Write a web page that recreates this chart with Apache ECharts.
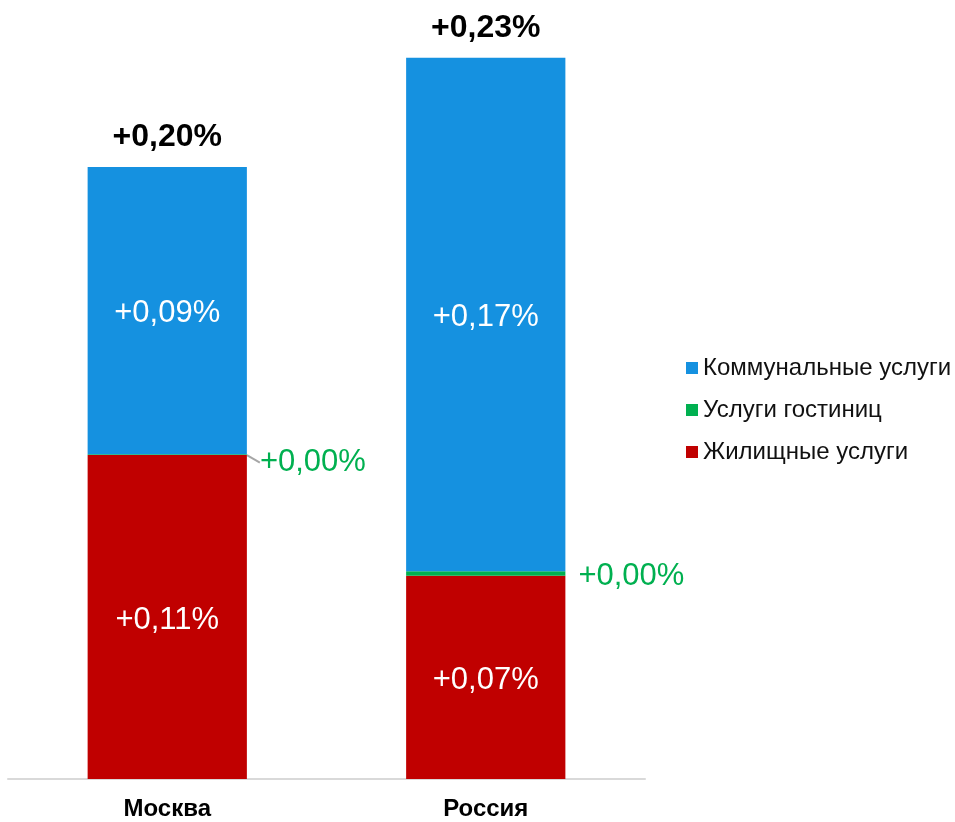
<!DOCTYPE html>
<html><head><meta charset="utf-8">
<script src="https://cdn.jsdelivr.net/npm/echarts@6/dist/echarts.min.js"></script>
<style>html,body{margin:0;padding:0;background:#fff}#c{width:955px;height:822px}</style>
</head><body><div id="c"></div>
<script>
const categories = ['Москва', 'Россия'];
const housing = [0.106, 0.0665];      // Жилищные услуги
const hotels = [0.0003, 0.0015];      // Услуги гостиниц
const utilities = [0.094, 0.168];     // Коммунальные услуги
const housingLabels = ['+0,11%', '+0,07%'];
const hotelLabels = ['+0,00%', '+0,00%'];
const utilityLabels = ['+0,09%', '+0,17%'];
const totalLabels = ['+0,20%', '+0,23%'];

const FONT = '"Liberation Sans", Arial, sans-serif';
const chart = echarts.init(document.getElementById('c'));
chart.setOption({
  animation: false,
  textStyle: { fontFamily: FONT },
  grid: { left: 8, right: 310, top: 15, bottom: 43 },
  legend: {
    orient: 'vertical', left: 681, top: 351,
    itemWidth: 12, itemHeight: 12, itemGap: 18,
    icon: 'rect',
    data: ['Коммунальные услуги', 'Услуги гостиниц', 'Жилищные услуги'],
    textStyle: { fontSize: 24, color: '#111', fontFamily: FONT }
  },
  xAxis: {
    type: 'category', data: categories,
    axisLine: { lineStyle: { color: '#d9d9d9', width: 2 } },
    axisTick: { show: false },
    axisLabel: { fontSize: 24, fontWeight: 'bold', color: '#000', margin: 18, fontFamily: FONT }
  },
  yAxis: { type: 'value', min: 0, max: 0.25, show: false, splitLine: { show: false } },
  series: [
    {
      name: 'Жилищные услуги', type: 'bar', stack: 's', barWidth: '50%',
      data: housing, itemStyle: { color: '#C00000' },
      label: { show: true, position: 'inside', offset: [0, 3], color: '#fff', fontSize: 31, fontFamily: FONT,
        formatter: p => housingLabels[p.dataIndex] }
    },
    {
      name: 'Услуги гостиниц', type: 'bar', stack: 's',
      data: hotels.map((v, i) => ({ value: v, labelLine: { show: i === 0 } })),
      itemStyle: { color: '#00B050' },
      label: { show: true, position: 'right', distance: 13, color: '#00B050', fontSize: 31, fontFamily: FONT,
        formatter: p => hotelLabels[p.dataIndex] },
      labelLine: { lineStyle: { color: '#a6a6a6', width: 2 } },
      labelLayout: p => p.dataIndex === 0 ? { dy: 8 } : { dy: 3 }
    },
    {
      name: 'Коммунальные услуги', type: 'bar', stack: 's',
      data: utilities, itemStyle: { color: '#1591E0' },
      label: { show: true, position: 'inside', offset: [0, 3], color: '#fff', fontSize: 31, fontFamily: FONT,
        formatter: p => utilityLabels[p.dataIndex] }
    },
    {
      name: 'Итого', type: 'bar', stack: 's',
      data: categories.map(() => 0), itemStyle: { color: 'transparent' },
      label: { show: true, position: 'top', distance: 14, color: '#000', fontSize: 32, fontWeight: 'bold', fontFamily: FONT,
        formatter: p => totalLabels[p.dataIndex] }
    }
  ]
});
</script></body></html>
